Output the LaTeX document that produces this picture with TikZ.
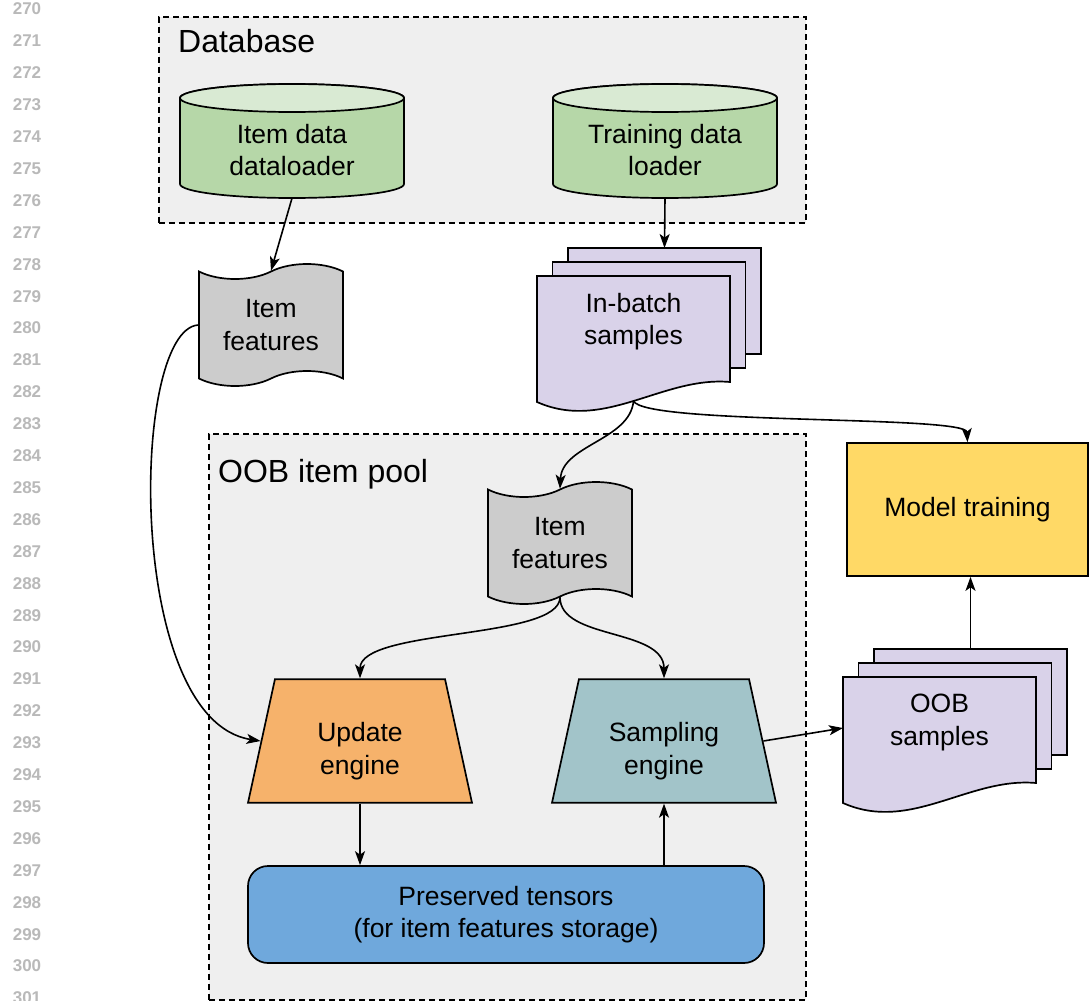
\documentclass[tikz,border=0pt]{standalone}
\usepackage{fontspec}
\setmainfont{Liberation Sans}
\usetikzlibrary{shapes.geometric}
\usetikzlibrary{shapes.symbols}
\usetikzlibrary{arrows.meta}
\usepackage{xcolor}

\definecolor{boxgray}{HTML}{EFEFEF}
\definecolor{dbgreen}{HTML}{B6D7A8}
\definecolor{dbtop}{HTML}{D9EAD3}
\definecolor{tapegray}{HTML}{CCCCCC}
\definecolor{pagelilac}{HTML}{D9D2E9}
\definecolor{updorange}{HTML}{F6B26B}
\definecolor{smpteal}{HTML}{A2C4C9}
\definecolor{prsblue}{HTML}{6FA8DC}
\definecolor{mdlyellow}{HTML}{FFD966}
\definecolor{lineno}{HTML}{B9B9B9}

\newcommand{\toppad}{\rule{0pt}{39pt}}

\tikzset{
  lbl/.style={font=\fontsize{26.5}{32.5}\selectfont, align=center},
  grouplbl/.style={font=\fontsize{32}{38}\selectfont, inner sep=0pt, anchor=base west},
  border/.style={draw, line width=1.7pt},
  groupbox/.style={draw, dash pattern=on 6pt off 4pt, line width=1.6pt, fill=boxgray, anchor=north west},
  page/.style={border, fill=pagelilac},
  tapebox/.style={tape, border, fill=tapegray, lbl, minimum width=144pt, minimum height=122pt, tape bend height=15pt},
  enginebox/.style={trapezium, border, lbl, trapezium left angle=77.7, trapezium right angle=77.7, trapezium stretches body, minimum width=224pt, inner ysep=23.3pt},
  arr/.style={-{Stealth[length=14pt,width=10pt,inset=3.5pt]}, line width=1.6pt},
  linenum/.style={font=\fontsize{17}{20}\selectfont\bfseries, text=lineno}
}

\newcommand{\dbcylinder}[3]{%
  \draw[border, fill=dbgreen] (#2-112,98) -- (#2-112,184)
    arc[start angle=180, end angle=0, x radius=112, y radius=14]
    -- (#2+112,98) arc[start angle=0, end angle=-180, x radius=112, y radius=14] -- cycle;
  \draw[border, fill=dbtop] (#2,98) ellipse[x radius=112, y radius=14];
  \node[lbl, minimum width=224pt, minimum height=96pt] (#1) at (#2,150) {#3};
}

\newcommand{\docstack}[4]{%
  \draw[page] (#2+31,#3-28) rectangle ++(193,106);
  \draw[page] (#2+15.5,#3-14) rectangle ++(193,106);
  \draw[page] (#2,#3) -- ++(193,0) -- ++(0,106)
    .. controls (#2+125.5,#3+100) and (#2+67.5,#3+156) .. (#2,#3+126) -- cycle;
  \node[lbl] (#1) at (#2+96.5,#3+45.5) {#4};
  \coordinate (#1-top) at (#2+127.5,#3-28);
  \coordinate (#1-bot) at (#2+96.5,#3+125);
  \coordinate (#1-left) at (#2,#3+51);
}

\begin{document}
\begin{tikzpicture}[x=1pt, y=-1pt]
  \useasboundingbox (0,0) rectangle (1090,1001);
  \fill[white] (0,0) rectangle (1090,1001);

  \foreach \n in {270,...,301}
    \node[linenum] (ln\n) at (27,{41+(\n-271)*31.9}) {\n};

  \node[groupbox, minimum width=647pt, minimum height=206pt] (db) at (158,16) {};
  \node[grouplbl] (dblabel) at (178,52) {Database};
  \node[groupbox, minimum width=597pt, minimum height=566pt] (pool) at (208,433) {};
  \node[grouplbl] (poollabel) at (218,482) {OOB item pool};

  \dbcylinder{dl1}{292}{Item data\\dataloader}
  \dbcylinder{dl2}{665}{Training data\\loader}

  \node[tapebox] (if1) at (271,325) {Item\\features};
  \node[tapebox] (if2) at (560,543) {Item\\features};

  \docstack{inb}{537}{276}{In-batch\\samples}
  \docstack{oob}{843}{677}{OOB\\samples}

  \node[border, fill=mdlyellow, lbl, minimum width=241pt, minimum height=133pt] (mdl) at (967.5,509.5) {Model training};
  \node[enginebox, fill=updorange] (upd) at (360,741) {\toppad Update\\engine};
  \node[enginebox, fill=smpteal] (smp) at (664,741) {\toppad Sampling\\engine};
  \node[border, fill=prsblue, rounded corners=20pt, lbl, minimum width=516pt, minimum height=97pt] (prs) at (506,914.5) {Preserved tensors\\(for item features storage)};

  \draw[arr] (dl1.south) -- (if1.north);
  \draw[arr] (dl2.south) -- (inb-top);
  \draw[arr] (if1.west) .. controls (130,330) and (125,720) .. (upd.west);
  \draw[arr] (inb-bot) .. controls (630,440) and (562,445) .. (if2.north);
  \draw[arr] (inb-bot) .. controls (645,425) and (966,415) .. (mdl.north);
  \draw[arr] (if2.south) .. controls (560,640) and (360,628) .. (upd.north);
  \draw[arr] (if2.south) .. controls (560,640) and (664,628) .. (smp.north);
  \draw[arr] (upd.south) -- (upd.south |- prs.north);
  \draw[arr] (prs.north -| smp.south) -- (smp.south);
  \draw[arr] (smp.east) -- (oob-left);
  \draw[arr] (oob-top) -- (oob-top |- mdl.south);
\end{tikzpicture}
\end{document}
